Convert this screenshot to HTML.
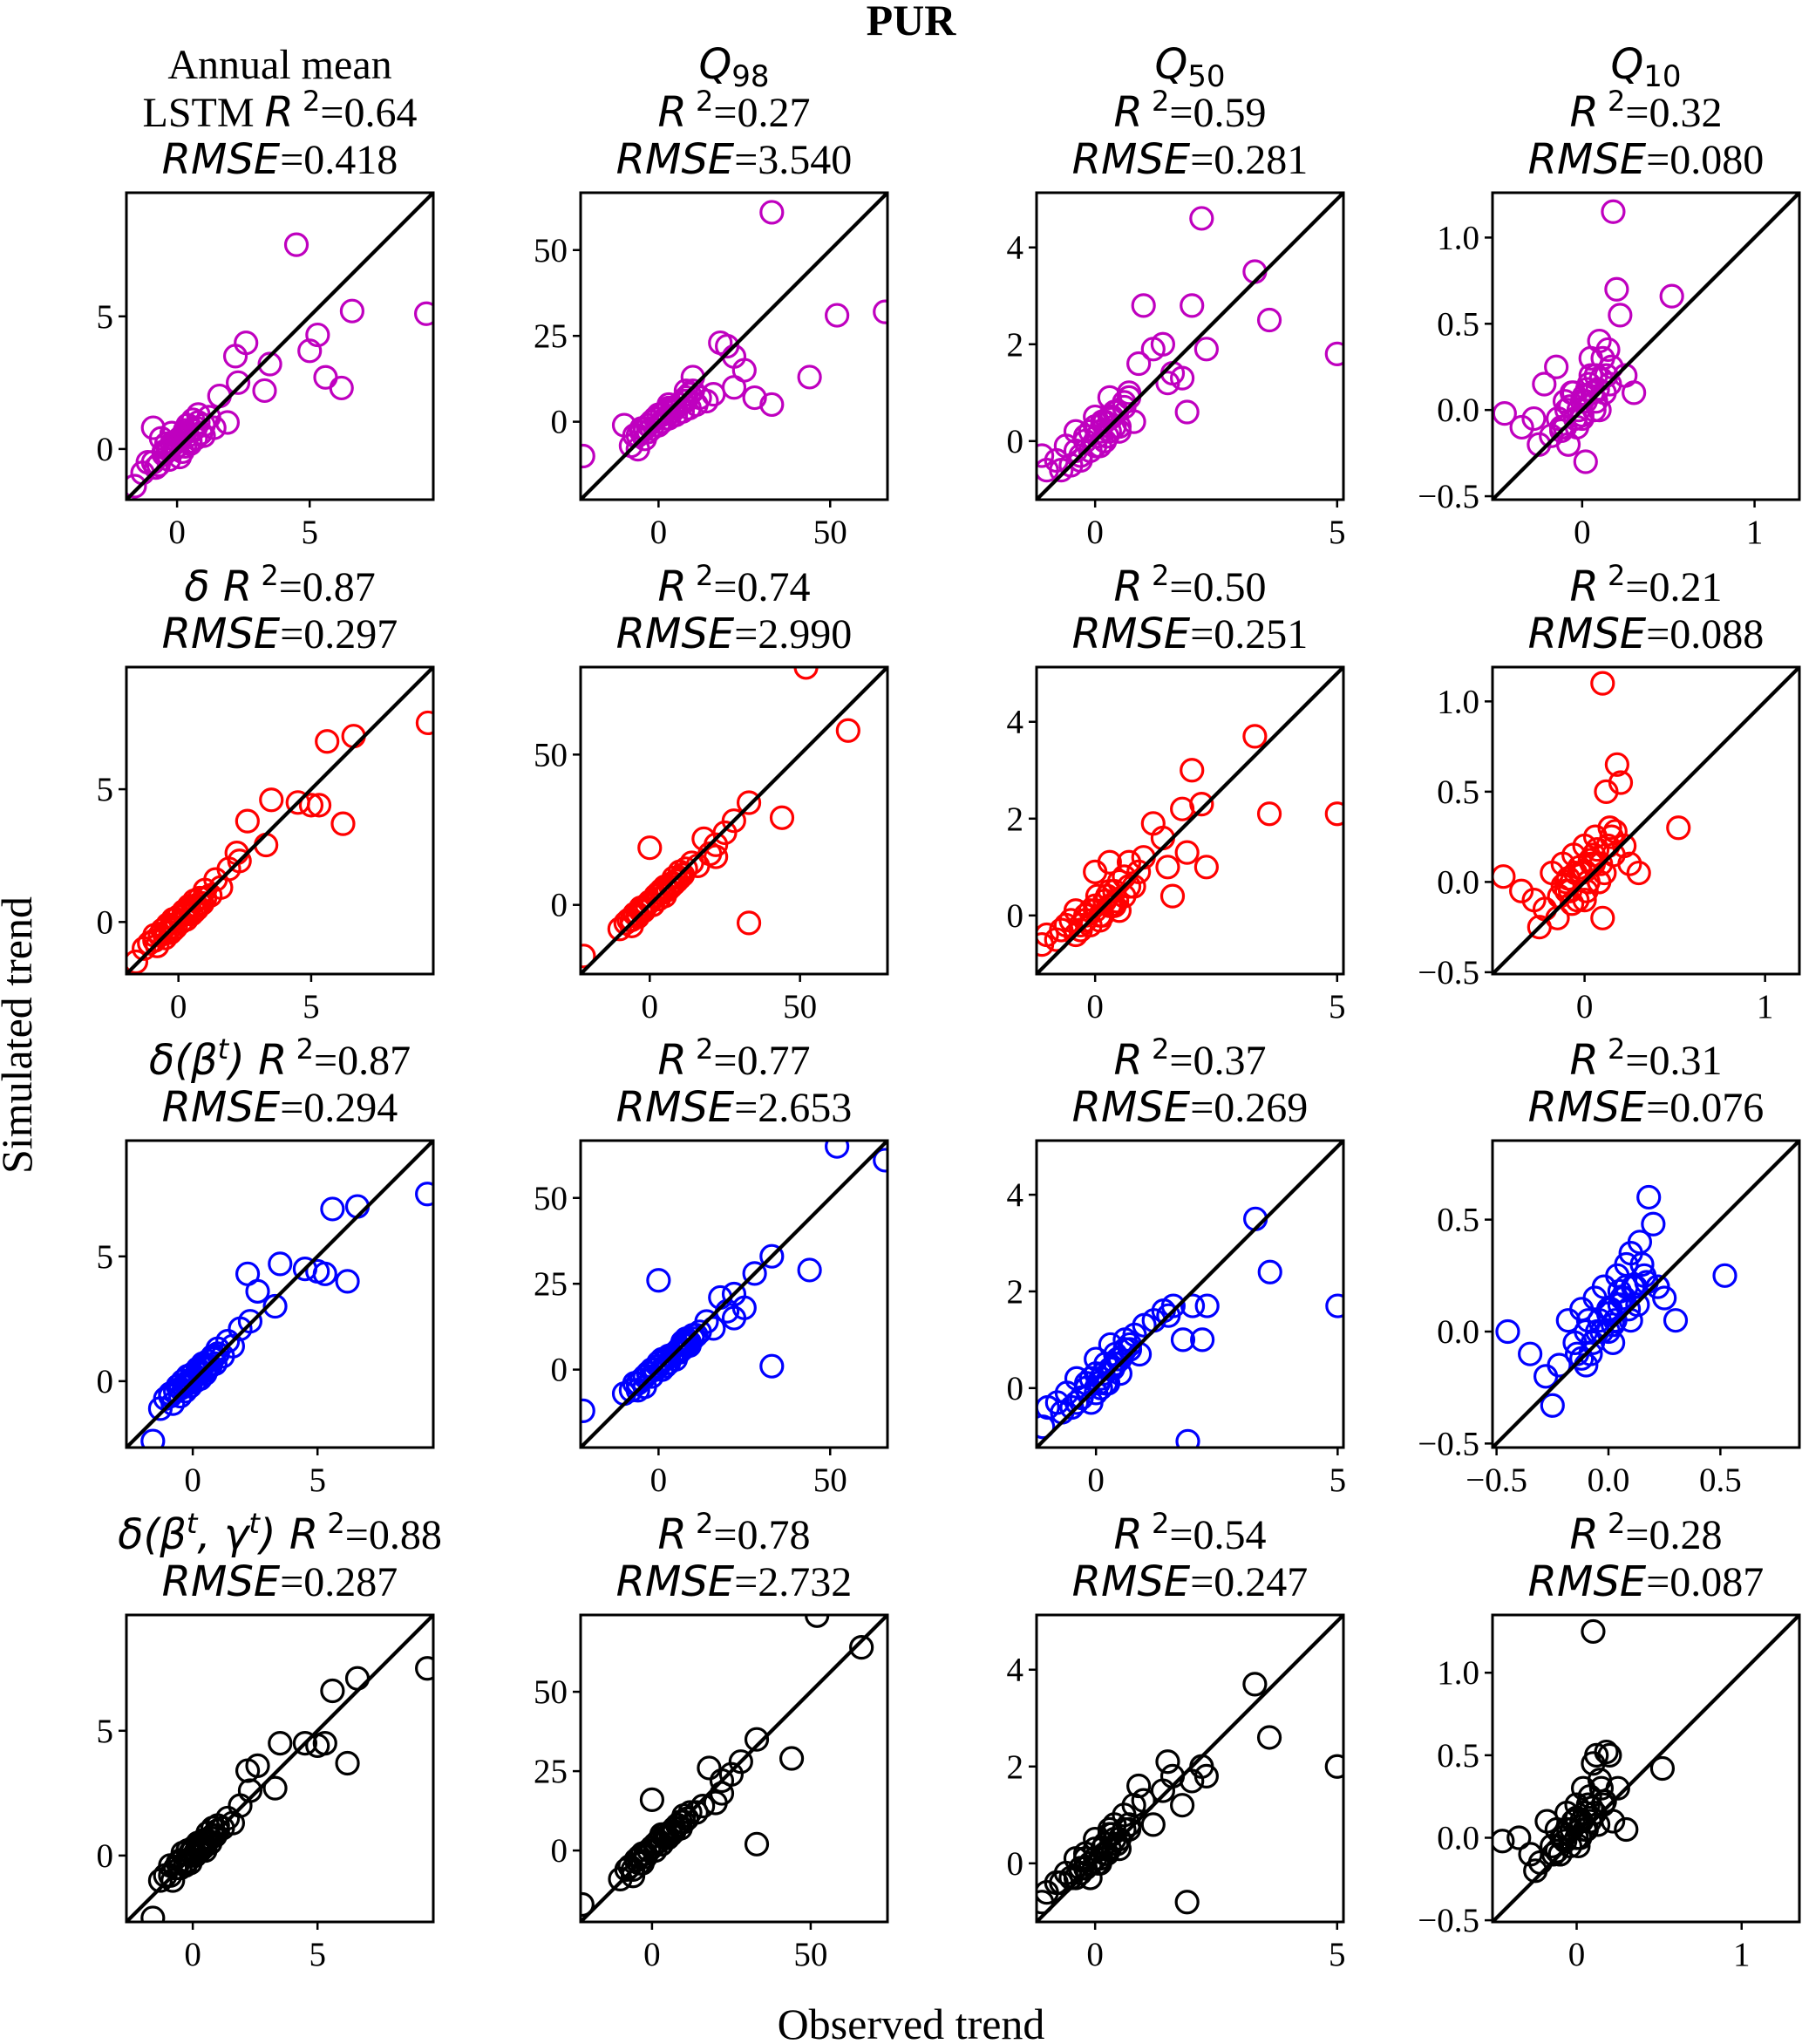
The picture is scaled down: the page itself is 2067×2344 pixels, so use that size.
<!DOCTYPE html>
<html><head><meta charset="utf-8"><style>
html,body{margin:0;padding:0;background:#fff;}
svg{display:block;}
text{font-family:"Liberation Serif",serif;fill:#000;}
.m{font-family:"DejaVu Sans",sans-serif;font-style:italic;}
</style></head><body>
<svg id="fig" width="2067" height="2344" viewBox="0 0 2067 2344" xmlns="http://www.w3.org/2000/svg">
<text x="1045" y="40" font-size="50" font-weight="bold" text-anchor="middle">PUR</text>
<text x="0" y="0" font-size="50" text-anchor="middle" transform="translate(36,1187) rotate(-90)">Simulated trend</text>
<text x="1045" y="2338" font-size="50" text-anchor="middle">Observed trend</text>
</svg>
<script>
// Observed (x) per column
const X1 = [-1.6,-1.3,-1.1,-0.9,-0.8,-0.6,-0.5,-0.4,-0.3,-0.2,-0.1,0.0,0.1,0.2,0.3,0.4,0.5,0.6,0.7,0.8,0.9,1.0,1.2,1.4,1.6,1.9,2.2,2.3,2.6,3.3,3.5,4.5,5.0,5.3,5.6,6.2,6.6,9.4,-0.7,0.3,-0.5,-0.3,-0.1,0.1,0.3,0.5,0.7,-0.9,0.0,0.2,0.4,0.6,-0.2,0.8,1.0];
const X2 = [-22,-10,-8,-7,-6,-5,-4,-3,-2,-1,0,0,1,2,3,4,5,6,7,8,9,10,11,12,14,16,18,20,22,22,25,28,33,33,44,52,66,-5,3,8,-6,-4,-2,0,2,4,6,8,-3,1,5,9,3,7,10];
const X3 = [-1.1,-1.0,-0.8,-0.6,-0.5,-0.4,-0.3,-0.2,-0.1,0,0.05,0.1,0.2,0.3,0.4,0.5,0.6,0.7,0.8,0.9,1.0,1.2,1.4,1.5,1.6,1.8,1.9,2.0,2.2,2.3,3.3,3.6,5.0,-0.7,0.0,0.3,-0.2,0.5,-0.4,-0.2,0.0,0.1,0.2,0.3,0.4,0.6,-0.3,-0.1,0.15,0.25,0.45,0.7,0.35];
const X4 = [-0.45,-0.35,-0.28,-0.22,-0.18,-0.15,-0.12,-0.1,-0.08,-0.06,-0.04,-0.02,0,0.02,0.04,0.06,0.08,0.1,0.1,0.12,0.14,0.16,0.18,0.2,0.22,0.25,0.3,0.52,-0.25,-0.1,0.05,0.0,0.15,-0.05,0.08,-0.14,-0.09,-0.03,0.01,0.03,0.07,0.11,0.13,-0.07,0.0,0.05,0.09,-0.12,0.17,0.02];
// Simulated (y) per panel: row (model) x column (metric)
const Y11 = [-1.4,-0.9,-0.5,0.8,-0.7,0.4,-0.2,0.2,-0.4,0.6,0.0,0.3,-0.3,0.5,0.1,0.9,0.2,1.1,0.4,1.3,0.6,0.9,1.2,0.8,2.0,1.0,3.5,2.5,4.0,2.2,3.2,7.7,3.7,4.3,2.7,2.3,5.2,5.1,-0.6,0.7,-0.1,0.0,0.2,0.4,0.6,0.3,0.8,-0.5,0.1,-0.1,0.5,0.7,0.2,1.0,0.5];
const Y21 = [-1.5,-1.0,-0.8,-0.5,-0.9,-0.3,-0.6,-0.1,-0.4,0.1,-0.2,0.2,0.0,0.4,0.1,0.6,0.3,0.8,0.5,0.9,0.7,1.2,1.0,1.6,1.3,2.0,2.6,2.3,3.8,2.9,4.6,4.5,4.4,4.4,6.8,3.7,7.0,7.5,-0.5,0.3,-0.4,-0.2,0.1,0.0,0.4,0.3,0.6,-0.7,0.2,0.3,0.5,0.4,-0.3,0.7,0.9];
const Y31 = [-2.4,-1.1,-0.7,-0.5,-0.9,-0.2,-0.6,0.0,-0.4,0.2,-0.2,0.3,0.0,0.5,0.1,0.7,0.3,0.8,0.6,1.0,0.7,1.3,1.0,1.6,1.4,2.1,4.3,2.4,3.6,3.0,4.7,4.5,4.4,4.3,6.9,4.0,7.0,7.5,-0.4,0.4,-0.3,-0.1,0.0,0.2,0.3,0.5,0.6,-0.6,0.1,0.4,0.6,0.5,-0.1,0.9,1.1];
const Y41 = [-2.5,-1.0,-0.8,-0.4,-1.0,-0.3,-0.5,0.1,-0.4,0.2,-0.3,0.3,0.0,0.5,0.2,0.6,0.4,0.9,0.5,1.1,0.8,1.2,1.1,1.5,1.3,2.0,3.4,2.6,3.6,2.7,4.5,4.5,4.4,4.5,6.6,3.7,7.1,7.5,-0.5,0.3,-0.2,-0.3,0.1,0.1,0.4,0.2,0.7,-0.8,0.2,0.4,0.3,0.6,-0.2,0.8,1.0];
const Y12 = [-10,-1,-7,-4,-8,-3,-5,-1,-2,1,-1,2,0,3,1,4,2,5,3,6,4,13,5,7,6,8,23,22,19,10,15,7,61,5,13,31,32,-2,4,9,-4,-2,0,2,1,3,5,7,-3,2,4,8,5,6,9];
const Y22 = [-17,-8,-6,-5,-7,-3,-4,-1,-2,0,19,1,0,3,2,4,3,5,6,7,8,9,10,12,14,13,22,17,20,16,24,28,34,-6,29,79,58,-3,2,7,-5,-3,-1,1,3,5,5,9,-2,0,6,8,4,7,11];
const Y32 = [-12,-7,-6,-4,-6,-3,-5,-1,-2,0,26,1,0,3,2,4,3,5,6,7,8,9,10,11,14,12,21,17,22,15,18,28,33,1,29,65,61,-3,2,8,-4,-2,0,2,1,4,6,9,-1,3,5,7,4,8,10];
const Y42 = [-17,-9,-6,-5,-8,-3,-4,-1,-2,0,16,1,0,3,2,4,4,5,6,8,7,9,10,12,12,14,26,15,22,18,24,28,35,2,29,74,64,-3,2,8,-6,-2,-1,1,3,5,6,8,-4,2,4,9,5,7,11];
const Y13 = [-0.3,-0.6,-0.4,-0.1,-0.5,0.2,-0.3,0.0,-0.2,0.3,0.1,-0.1,0.4,0.2,0.6,0.3,0.8,1.0,0.4,1.6,2.8,1.9,2.0,1.2,1.4,1.3,0.6,2.8,4.6,1.9,3.5,2.5,1.8,-0.6,0.5,0.9,0.1,0.2,-0.2,0.1,-0.1,0.2,0.0,0.5,0.3,0.7,-0.4,0.2,0.4,0.1,0.6,0.9,0.5];
const Y23 = [-0.6,-0.4,-0.5,-0.2,-0.1,0.1,-0.3,0.0,-0.2,0.2,0.4,-0.1,0.3,0.5,0.2,0.7,0.4,1.1,0.6,0.9,1.2,1.9,1.6,1.0,0.4,2.2,1.3,3.0,2.3,1.0,3.7,2.1,2.1,-0.3,0.9,1.1,-0.1,0.1,-0.4,-0.1,0.1,0.0,0.3,0.2,0.5,0.8,-0.2,0.1,0.0,0.4,0.3,0.6,0.2];
const Y33 = [-0.8,-0.4,-0.3,-0.1,-0.4,0.2,-0.2,0.1,-0.3,0.3,0.1,0.0,0.5,0.4,0.7,0.6,1.0,0.8,1.1,0.7,1.3,1.4,1.6,1.5,1.7,1.0,-1.1,1.7,1.0,1.7,3.5,2.4,1.7,-0.5,0.6,0.9,0.0,0.3,-0.3,0.0,-0.1,0.2,0.1,0.4,0.5,0.8,-0.2,0.2,0.3,0.1,0.6,0.9,0.4];
const Y43 = [-0.8,-0.6,-0.4,-0.2,-0.3,0.1,-0.1,0.2,-0.3,0.3,0.0,0.1,0.4,0.6,0.8,0.5,1.0,0.7,1.2,1.6,1.3,0.8,1.5,2.1,1.8,1.2,-0.8,1.7,2.0,1.8,3.7,2.6,2.0,-0.4,0.5,0.7,0.1,0.3,-0.3,-0.1,0.1,0.0,0.2,0.3,0.5,0.7,-0.2,0.0,0.3,0.2,0.4,0.8,0.6];
const Y14 = [-0.02,-0.1,-0.05,0.15,-0.15,0.25,-0.1,0.05,-0.2,0.1,-0.05,0.0,0.05,-0.3,0.15,0.1,0.2,0.0,0.4,0.3,0.2,0.15,1.15,0.7,0.55,0.2,0.1,0.66,-0.2,-0.1,0.3,-0.05,0.35,0.1,0.05,-0.05,0.0,-0.1,0.08,0.12,0.0,0.18,0.1,0.02,-0.03,0.2,0.12,-0.12,0.25,0.05];
const Y24 = [0.03,-0.05,-0.1,-0.15,0.05,-0.2,0.1,0.0,-0.05,0.15,-0.1,0.05,0.2,0.0,0.1,0.25,0.0,1.1,-0.2,0.5,0.3,0.15,0.65,0.55,0.2,0.1,0.05,0.3,-0.25,-0.05,0.1,-0.1,0.25,0.05,0.0,-0.08,0.02,0.08,-0.05,0.12,0.18,0.05,0.2,-0.12,0.06,0.15,0.1,-0.02,0.28,0.0];
const Y34 = [0.0,-0.1,-0.2,-0.15,0.05,-0.05,0.1,0.0,-0.1,0.15,0.05,0.2,0.1,-0.05,0.25,0.15,0.3,0.05,0.35,0.2,0.4,0.25,0.6,0.48,0.2,0.15,0.05,0.25,-0.33,-0.15,0.12,0.0,0.3,0.0,0.2,-0.1,0.05,0.0,0.1,0.05,0.15,0.2,0.12,-0.05,0.08,0.18,0.1,-0.12,0.22,0.03];
const Y44 = [-0.02,0.0,-0.1,-0.15,0.1,-0.05,0.05,-0.1,0.0,0.15,-0.05,0.1,0.2,0.0,0.3,0.05,0.25,1.25,0.45,0.5,0.35,0.2,0.52,0.5,0.1,0.3,0.05,0.42,-0.2,-0.1,0.15,0.0,0.3,0.05,0.1,-0.1,0.0,0.05,-0.05,0.1,0.2,0.15,0.08,-0.02,0.12,0.05,0.18,-0.08,0.22,0.0];
// Axis limits [lo,hi] per panel (same for x and y)
const LIMS = [
 [[-1.91,9.66],[-22.7,66.7],[-1.21,5.13],[-0.52,1.26]],
 [[-1.96,9.6],[-23,79.1],[-1.21,5.13],[-0.51,1.19]],
 [[-2.66,9.64],[-22.7,66.7],[-1.23,5.12],[-0.518,0.853]],
 [[-2.66,9.64],[-22.5,74.2],[-1.21,5.13],[-0.51,1.35]]
];
const XTICKS = [
 [[0,5],[0,50],[0,5],[0,1]],
 [[0,5],[0,50],[0,5],[0,1]],
 [[0,5],[0,50],[0,5],[-0.5,0,0.5]],
 [[0,5],[0,50],[0,5],[0,1]]
];
const YTICKS = [
 [[0,5],[0,25,50],[0,2,4],[-0.5,0,0.5,1]],
 [[0,5],[0,50],[0,2,4],[-0.5,0,0.5,1]],
 [[0,5],[0,25,50],[0,2,4],[-0.5,0,0.5]],
 [[0,5],[0,25,50],[0,2,4],[-0.5,0,0.5,1]]
];
const R2 = [["0.64","0.27","0.59","0.32"],["0.87","0.74","0.50","0.21"],["0.87","0.77","0.37","0.31"],["0.88","0.78","0.54","0.28"]];
const RMSE = [["0.418","3.540","0.281","0.080"],["0.297","2.990","0.251","0.088"],["0.294","2.653","0.269","0.076"],["0.287","2.732","0.247","0.087"]];
const XS = [X1,X2,X3,X4];
const YS = [[Y11,Y12,Y13,Y14],[Y21,Y22,Y23,Y24],[Y31,Y32,Y33,Y34],[Y41,Y42,Y43,Y44]];
const COLORS = ["#bf00bf","#ff0000","#0000ff","#000000"];

const NS = "http://www.w3.org/2000/svg";
const svg = document.getElementById('fig');
const LEFT = [145,666,1189,1712], TOP = [221,765,1308,1852], W = 352, H = 352;
function mk(tag, parent, attrs){const e=document.createElementNS(NS,tag);for(const k in attrs)e.setAttribute(k,attrs[k]);parent.appendChild(e);return e;}

for(let r=0;r<4;r++){
 for(let c=0;c<4;c++){
  const [lo,hi]=LIMS[r][c];
  const L=LEFT[c],T=TOP[r];
  const sx=v=>L+(v-lo)/(hi-lo)*W;
  const sy=v=>T+H-(v-lo)/(hi-lo)*H;
  const g=mk('g',svg,{});
  
  
  const defsId='clip'+r+c;
  const cp=mk('clipPath',g,{id:defsId});
  mk('rect',cp,{x:L,y:T,width:W,height:H});
  const pts=mk('g',g,{'clip-path':'url(#'+defsId+')'});
  
  
  const xs=XS[c], ys=YS[r][c];
  for(let i=0;i<Math.min(xs.length,ys.length);i++){
   const ci=mk('circle',pts,{cx:sx(xs[i]),cy:sy(ys[i]),r:12.5,fill:'none',stroke:COLORS[r],'stroke-width':3.2});
   
   
  }
  const ln=mk('line',g,{x1:sx(lo),y1:sy(lo),x2:sx(hi),y2:sy(hi),stroke:'#000','stroke-width':4.2,'clip-path':'url(#'+defsId+')'});
  
  
  const fr=mk('rect',g,{x:L,y:T,width:W,height:H,fill:'none',stroke:'#000','stroke-width':3});
  
  
  XTICKS[r][c].forEach(v=>{
   const x=sx(v);
   mk('line',g,{x1:x,y1:T+H,x2:x,y2:T+H+9,stroke:'#000','stroke-width':2.5});
   let s=(c===3&&r===2)?(v<0?"−":"")+Math.abs(v).toFixed(1):(v<0?"−":"")+Math.abs(v);
   const t=mk('text',g,{x:x,y:T+H+50,'font-size':39,'text-anchor':'middle'});
   t.textContent=s;
   
   
  });
  YTICKS[r][c].forEach(v=>{
   const y=sy(v);
   mk('line',g,{x1:L-9,y1:y,x2:L,y2:y,stroke:'#000','stroke-width':2.5});
   let s=(c===3)?(v<0?"−":"")+Math.abs(v).toFixed(1):(v<0?"−":"")+Math.abs(v);
   const t=mk('text',g,{x:L-15,y:y+13,'font-size':39,'text-anchor':'end'});
   t.textContent=s;
   
   
  });
  const cx=L+W/2;
  const l2=mk('text',g,{x:cx,y:T-76,'font-size':48,'text-anchor':'middle'});
  
  
  if(c===0){
   if(r===0) mk('tspan',l2,{}).textContent='LSTM ';
   else if(r===1){ mk('tspan',l2,{class:'m'}).textContent='δ '; }
   else if(r===2){ mk('tspan',l2,{class:'m'}).textContent='δ(β'; mk('tspan',l2,{class:'m','font-size':32,dy:-18}).textContent='t'; mk('tspan',l2,{class:'m',dy:18}).textContent=') '; }
   else { mk('tspan',l2,{class:'m'}).textContent='δ(β'; mk('tspan',l2,{class:'m','font-size':32,dy:-18}).textContent='t'; mk('tspan',l2,{class:'m',dy:18}).textContent=', γ'; mk('tspan',l2,{class:'m','font-size':32,dy:-18}).textContent='t'; mk('tspan',l2,{class:'m',dy:18}).textContent=') '; }
  }
  mk('tspan',l2,{class:'m'}).textContent='R';
  mk('tspan',l2,{'font-size':32,dy:-18,style:'font-family:DejaVu Sans,sans-serif'}).textContent=' 2';
  mk('tspan',l2,{dy:18}).textContent='='+R2[r][c];
  const l3=mk('text',g,{x:cx,y:T-22,'font-size':48,'text-anchor':'middle'});
  
  
  mk('tspan',l3,{class:'m'}).textContent='RMSE';
  mk('tspan',l3,{}).textContent='='+RMSE[r][c];
  if(r===0){
   const l1=mk('text',g,{x:cx,y:T-131,'font-size':48,'text-anchor':'middle'});
   
   
   if(c===0){ l1.textContent='Annual mean'; }
   else { mk('tspan',l1,{class:'m'}).textContent='Q'; mk('tspan',l1,{'font-size':34,dy:9,style:'font-family:DejaVu Sans,sans-serif'}).textContent=['','98','50','10'][c]; }
  }
 }
}
</script>
</body></html>
